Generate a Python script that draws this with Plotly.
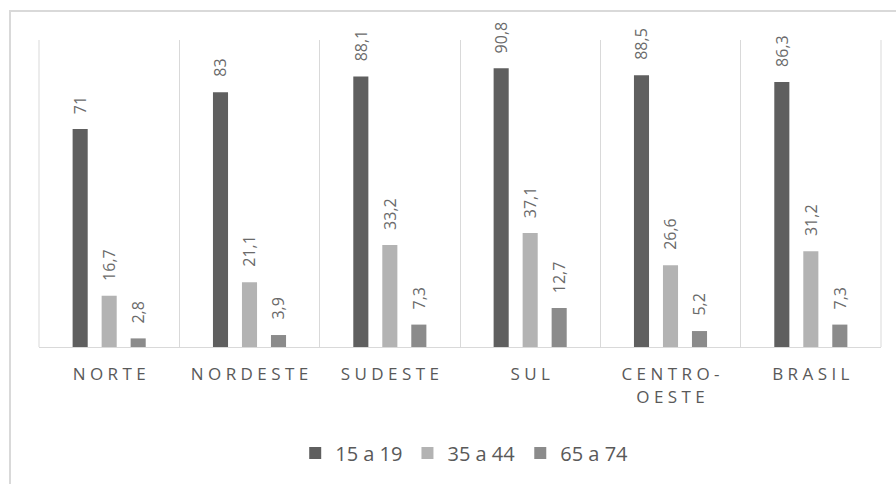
import plotly.graph_objects as go

categories = ["NORTE", "NORDESTE", "SUDESTE", "SUL", "CENTRO-<br>OESTE", "BRASIL"]
series_names = ["15 a 19", "35 a 44", "65 a 74"]
v_15_19 = [71, 83, 88.1, 90.8, 88.5, 86.3]
v_35_44 = [16.7, 21.1, 33.2, 37.1, 26.6, 31.2]
v_65_74 = [2.8, 3.9, 7.3, 12.7, 5.2, 7.3]
colors = ["#5f5f5f", "#b3b3b3", "#8b8b8b"]

def spaced(label):
    lines = label.split("<br>")
    return "<br>".join("\u00a0".join(list(l)) for l in lines)

x_cats = [spaced(c) for c in categories]

FONT = "Open Sans, Liberation Sans, sans-serif"
fig = go.Figure()
all_vals = [v_15_19, v_35_44, v_65_74]
for name, vals, col in zip(series_names, all_vals, colors):
    fig.add_trace(go.Bar(x=x_cats, y=vals, name=name, marker=dict(color=col, line=dict(width=0))))

bargap = 0.38
slot = (1 - bargap) / 3
annotations = []
for k, vals in enumerate(all_vals):
    off = (k - 1) * slot
    for i, v in enumerate(vals):
        annotations.append(dict(
            x=i + off, y=v, xref="x", yref="y",
            text=str(v).replace(".", ","), showarrow=False,
            textangle=-90, yanchor="bottom", xanchor="center", yshift=13,
            font=dict(family=FONT, size=16, color="#6a6a6a")))

edge_lines = [dict(type="line", xref="paper", yref="paper", x0=e, x1=e, y0=0, y1=1,
                   line=dict(color="#d9d9d9", width=1), layer="below") for e in (0, 1)]

fig.update_layout(
    width=896, height=484,
    margin=dict(l=39, r=15, t=40, b=137),
    paper_bgcolor="white", plot_bgcolor="white",
    barmode="group", bargap=bargap, bargroupgap=0.48,
    font=dict(family=FONT, color="#595959"),
    showlegend=True,
    legend=dict(orientation="h", x=0.505, xanchor="center", y=-0.345, yanchor="middle",
                font=dict(family=FONT, size=20, color="#595959"), itemclick=False,
                itemwidth=30),
    annotations=annotations,
    shapes=[dict(type="rect", xref="paper", yref="paper",
                 x0=(10 - 39) / 842, x1=1.5, y0=-1.0, y1=(347 - 11) / 307,
                 line=dict(color="#d9d9d9", width=2), layer="below")] + edge_lines,
)
fig.update_xaxes(
    type="category", categoryorder="array", categoryarray=x_cats,
    range=[-0.5, 5.5], tickson="boundaries", showgrid=True, gridcolor="#d9d9d9", gridwidth=1,
    showline=True, linecolor="#d9d9d9", linewidth=1, ticks="",
    tickfont=dict(family=FONT, size=17, color="#595959"), ticklabelstandoff=12,
    mirror=False,
)
fig.update_yaxes(range=[0, 100], visible=False, showgrid=False, zeroline=False)
fig.write_html("out.html")
